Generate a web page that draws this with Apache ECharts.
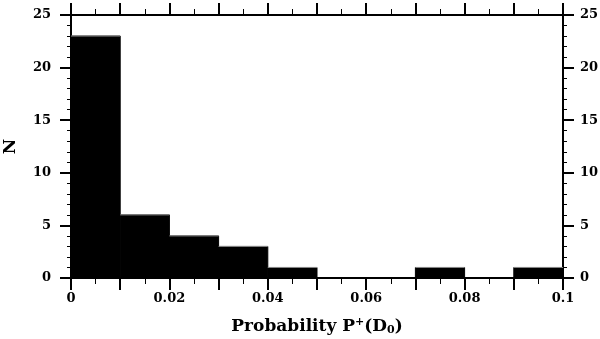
<!DOCTYPE html>
<html>
<head>
<meta charset="utf-8">
<script src="https://cdn.jsdelivr.net/npm/echarts@6/dist/echarts.min.js"></script>
<style>html,body{margin:0;padding:0;background:#fff}#c{width:600px;height:339px}</style>
</head>
<body>
<div id="c"></div>
<script>
const binStarts = [0, 0.01, 0.02, 0.03, 0.04, 0.05, 0.06, 0.07, 0.08, 0.09];
const binWidth = 0.01;
const counts = [23, 6, 4, 3, 1, 0, 0, 1, 0, 1];
const xTickLabels = ['0', '0.02', '0.04', '0.06', '0.08', '0.1'];
const yTickLabels = ['0', '5', '10', '15', '20', '25'];

const font = '"DejaVu Serif", "Liberation Serif", serif';
const data = binStarts.map((s, i) => [s, s + binWidth, counts[i]]);

function xFmt(v) {
  const s = String(+v.toFixed(2));
  return xTickLabels.indexOf(s) >= 0 ? s : '';
}
function yFmt(v) {
  const s = String(v);
  return yTickLabels.indexOf(s) >= 0 ? s : '';
}

const axisLine = {show: true, onZero: false, lineStyle: {color: '#000', width: 2}};
const chart = echarts.init(document.getElementById('c'), null, {renderer: 'canvas'});
chart.setOption({
  animation: false,
  grid: {left: 71, right: 37, top: 15, bottom: 61, containLabel: false, outerBoundsMode: 'none'},
  xAxis: [
    {type: 'value', position: 'bottom', min: 0, max: 0.1, interval: 0.01,
     axisLine: axisLine,
     axisTick: {show: true, inside: false, length: 12, lineStyle: {color: '#000', width: 2}},
     minorTick: {show: true, splitNumber: 2, length: 6, lineStyle: {color: '#000', width: 1}},
     splitLine: {show: false},
     axisLabel: {formatter: xFmt, margin: 14, color: '#000', fontFamily: font, fontWeight: 'bold', fontSize: 13},
     name: '{n|Probability P}{sup|+}{n|(D}{sub|0}{n|)}', nameLocation: 'middle', nameGap: 39,
     nameTextStyle: {rich: {
       n: {fontFamily: font, fontWeight: 'bold', fontSize: 17, color: '#000'},
       sup: {fontFamily: font, fontWeight: 'bold', fontSize: 11, color: '#000', verticalAlign: 'top', padding: [0,0,8,0]},
       sub: {fontFamily: font, fontWeight: 'bold', fontSize: 11, color: '#000', verticalAlign: 'bottom', padding: [6,0,0,0]}
     }}},
    {type: 'value', position: 'top', min: 0, max: 0.1, interval: 0.01,
     axisLine: axisLine,
     axisTick: {show: true, inside: false, length: 12, lineStyle: {color: '#000', width: 2}},
     minorTick: {show: true, splitNumber: 2, length: 6, lineStyle: {color: '#000', width: 1}},
     splitLine: {show: false}, axisLabel: {show: false}}
  ],
  yAxis: [
    {type: 'value', position: 'left', min: 0, max: 25, interval: 5,
     axisLine: axisLine,
     axisTick: {show: true, inside: false, length: 11, lineStyle: {color: '#000', width: 2}},
     minorTick: {show: true, splitNumber: 5, length: 4, lineStyle: {color: '#000', width: 1}},
     splitLine: {show: false},
     axisLabel: {formatter: yFmt, margin: 20, color: '#000', fontFamily: font, fontWeight: 'bold', fontSize: 13},
     name: 'N', nameLocation: 'middle', nameGap: 52, nameRotate: 90,
     nameTextStyle: {fontFamily: font, fontWeight: 'bold', fontSize: 17, color: '#000'}},
    {type: 'value', position: 'right', min: 0, max: 25, interval: 5,
     axisLine: axisLine,
     axisTick: {show: true, inside: false, length: 11, lineStyle: {color: '#000', width: 2}},
     minorTick: {show: true, splitNumber: 5, length: 4, lineStyle: {color: '#000', width: 1}},
     splitLine: {show: false},
     axisLabel: {formatter: yFmt, margin: 17, color: '#000', fontFamily: font, fontWeight: 'bold', fontSize: 13}}
  ],
  series: [{
    type: 'custom', xAxisIndex: 0, yAxisIndex: 0, data: data,
    encode: {x: [0, 1], y: 2},
    renderItem: function (params, api) {
      const y = api.value(2);
      if (!y) return null;
      const p0 = api.coord([api.value(0), y]);
      const p1 = api.coord([api.value(1), 0]);
      return {type: 'group', children: [
        {type: 'rect', shape: {x: p0[0], y: p0[1], width: p1[0] - p0[0], height: p1[1] - p0[1]},
         style: {fill: '#000', stroke: '#000', lineWidth: 1}},
        {type: 'line', shape: {x1: p0[0], y1: p0[1], x2: p1[0], y2: p0[1]},
         style: {stroke: '#888', lineWidth: 1}}
      ]};
    }
  }]
});
</script>
</body>
</html>
